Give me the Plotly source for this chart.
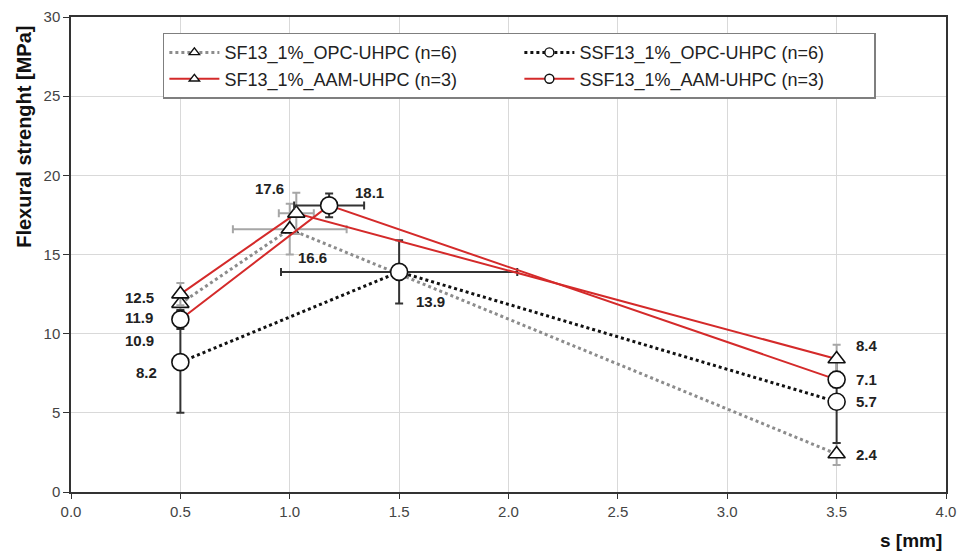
import plotly.graph_objects as go

# ---- data ----
sf_opc_x = [0.5, 1.0, 3.5]
sf_opc_y = [11.9, 16.6, 2.4]
sf_opc_yerr = [0.5, 1.6, 0.7]
sf_opc_xerr = [0.0, 0.26, 0.0]

ssf_opc_x = [0.5, 1.5, 3.5]
ssf_opc_y = [8.2, 13.9, 5.7]
ssf_opc_yerr = [3.2, 2.0, 2.6]
ssf_opc_xerr = [0.0, 0.54, 0.0]

sf_aam_x = [0.5, 1.03, 3.5]
sf_aam_y = [12.5, 17.6, 8.4]
sf_aam_yerr = [0.7, 1.3, 0.9]
sf_aam_xerr = [0.0, 0.08, 0.0]

ssf_aam_x = [0.5, 1.18, 3.5]
ssf_aam_y = [10.9, 18.1, 7.1]
ssf_aam_yerr = [0.6, 0.75, 0.5]
ssf_aam_xerr = [0.0, 0.16, 0.0]

names = ["SF13_1%_OPC-UHPC (n=6)", "SSF13_1%_OPC-UHPC (n=6)",
         "SF13_1%_AAM-UHPC (n=3)", "SSF13_1%_AAM-UHPC (n=3)"]

x_ticks = [0.0, 0.5, 1.0, 1.5, 2.0, 2.5, 3.0, 3.5, 4.0]
y_ticks = [0, 5, 10, 15, 20, 25, 30]

# ---- label offsets (px) ----
offsets = {
    0: [(-41, -14), (23, -28), (30, 0)],
    1: [(-34, -10), (31, -30), (30, 0)],
    2: [(-41, -3), (-27, 25), (30, 14)],
    3: [(-41, -21), (40, 13), (30, 0)],
}

series = [
    (sf_opc_x, sf_opc_y, sf_opc_xerr, sf_opc_yerr, "triangle-up", dict(color="#8c8c8c", width=3, dash="dot"), "#a6a6a6"),
    (ssf_opc_x, ssf_opc_y, ssf_opc_xerr, ssf_opc_yerr, "circle", dict(color="#111111", width=3, dash="dot"), "#333333"),
    (sf_aam_x, sf_aam_y, sf_aam_xerr, sf_aam_yerr, "triangle-up", dict(color="#d42a2a", width=2), "#a6a6a6"),
    (ssf_aam_x, ssf_aam_y, ssf_aam_xerr, ssf_aam_yerr, "circle", dict(color="#d42a2a", width=2), "#333333"),
]

fig = go.Figure()
annotations = []
for i, (xs, ys, xe, ye, sym, line, ecol) in enumerate(series):
    fig.add_trace(go.Scatter(
        x=xs, y=ys, name=names[i], mode="lines+markers", showlegend=False,
        line=line,
        marker=dict(symbol=sym, size=17 if sym == "circle" else 15, color="white",
                    line=dict(color="#111111", width=1.6)),
        error_y=dict(type="data", array=ye, visible=True, color=ecol, thickness=2, width=4),
        error_x=dict(type="data", array=xe, visible=True, color=ecol, thickness=2, width=4),
    ))
    for j, (xv, yv) in enumerate(zip(xs, ys)):
        dx, dy = offsets[i][j]
        annotations.append(dict(
            x=xv, y=yv, text=f"<b>{yv:.1f}</b>", showarrow=False,
            xshift=dx, yshift=dy, xanchor="center", yanchor="middle",
            font=dict(family="Liberation Sans, Arial", size=15, color="#222222")))

# legend-only entries with small symbols
for i, (xs, ys, xe, ye, sym, line, ecol) in enumerate(series):
    fig.add_trace(go.Scatter(
        x=[None], y=[None], name=names[i], mode="lines+markers",
        line=line,
        marker=dict(symbol=sym, size=9, color="white",
                    line=dict(color="#111111", width=1.4)),
    ))

annotations.append(dict(
    x=1.0, y=0, xref="paper", yref="paper", xanchor="right", yanchor="top",
    yshift=-36, xshift=-2, text="<b>s [mm]</b>", showarrow=False,
    font=dict(family="Liberation Sans, Arial", size=19, color="#111111")))

annotations.append(dict(
    x=-0.053, y=0.747, xref="paper", yref="paper", xanchor="center", yanchor="middle",
    textangle=-90, text="<b>Flexural strenght [MPa]</b>", showarrow=False,
    font=dict(family="Liberation Sans, Arial", size=20, color="#111111")))

fig.update_layout(
    width=960, height=553,
    margin=dict(l=71, r=14, t=17, b=61, autoexpand=False),
    paper_bgcolor="white", plot_bgcolor="white",
    font=dict(family="Liberation Sans, Arial", size=15, color="#444444"),
    showlegend=True,
    legend=dict(
        orientation="h", x=0.105, y=0.967, xanchor="left", yanchor="top",
        entrywidth=290, entrywidthmode="pixels",
        bgcolor="white", bordercolor="#7f7f7f", borderwidth=1.5,
        font=dict(family="Liberation Sans, Arial", size=18, color="#222222"),
        itemwidth=50, tracegroupgap=2,
    ),
    annotations=annotations,
    xaxis=dict(
        range=[0, 4], tickvals=x_ticks, ticktext=[f"{v:.1f}" for v in x_ticks],
        showgrid=True, gridcolor="#d9d9d9", gridwidth=1,
        showline=True, linecolor="#333333", linewidth=1.5, mirror=True,
        ticks="outside", ticklen=5, tickcolor="#333333",
        zeroline=False,
        tickfont=dict(size=15, color="#444444"),
    ),
    yaxis=dict(
        range=[0, 30], tickvals=y_ticks,
        showgrid=True, gridcolor="#d9d9d9", gridwidth=1,
        showline=True, linecolor="#333333", linewidth=1.5, mirror=True,
        ticks="outside", ticklen=6, tickcolor="#333333",
        zeroline=False,
        tickfont=dict(size=15, color="#444444"),
    ),
)

fig.write_html("out.html")
